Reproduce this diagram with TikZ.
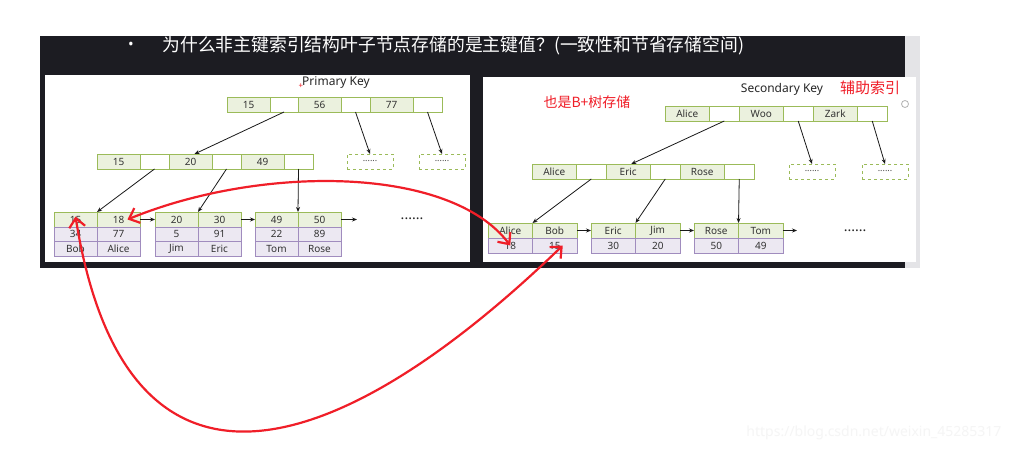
\documentclass[tikz,border=0pt]{standalone}
\usepackage{fontspec}
\setmainfont{Noto Sans}
\newfontfamily\cjk{Noto Sans CJK SC}
\usepackage{xcolor}
\usetikzlibrary{arrows.meta,positioning}
\definecolor{slidebg}{RGB}{28,28,34}
\definecolor{strip}{RGB}{228,228,231}
\definecolor{keyfill}{RGB}{235,241,222}
\definecolor{keyline}{RGB}{155,187,89}
\definecolor{valfill}{RGB}{236,232,242}
\definecolor{valline}{RGB}{160,140,190}
\definecolor{pen}{RGB}{240,30,40}

\begin{document}
\begin{tikzpicture}[x=1pt,y=-1pt,>={Stealth[length=5pt,width=4pt]},
  key/.style={draw=keyline,fill=keyfill,line width=1pt,minimum width=#1,minimum height=15pt,inner sep=0pt,outer sep=0pt,font=\fontsize{10}{10}\selectfont,text=black!80},
  ptr/.style={draw=keyline,fill=white,line width=1pt,minimum width=#1,minimum height=15pt,inner sep=0pt,outer sep=0pt},
  val/.style={draw=valline,fill=valfill,line width=1pt,minimum width=#1,minimum height=14.5pt,inner sep=0pt,outer sep=0pt,font=\fontsize{10}{10}\selectfont,text=black!80},
  more/.style={draw=keyline,dashed,line width=1pt,minimum width=46pt,minimum height=15pt,inner sep=0pt,outer sep=0pt,font=\fontsize{9}{9}\selectfont,text=black!70},
  link/.style={->,black!90,line width=0.8pt},
  redpen/.style={pen,line width=2.2pt,{Straight Barb[length=9pt,width=16pt]}-{Straight Barb[length=9pt,width=16pt]}}]
  \useasboundingbox (0,0) rectangle (1014,452);
  \fill[white] (0,0) rectangle (1014,452);
  % slide
  \fill[slidebg] (40,36) rectangle (905,268);
  \fill[strip] (905,36) rectangle (920,268);
  \fill[white] (45,75) rectangle (470,262);
  \fill[white] (483,77) rectangle (916,262);
  \node[text=white,font=\fontsize{15}{15}\selectfont] (dot) at (131,46) {•};
  \node[anchor=west,text=white,font=\cjk\fontsize{17.8}{18}\selectfont] (title) at (159,46) {为什么非主键索引结构叶子节点存储的是主键值？(一致性和节省存储空间)};

  % primary key tree
  \node[font=\fontsize{12}{12}\selectfont,text=black!85] (pk) at (336,83) {Primary Key};
  \node[text=pen,font=\fontsize{8}{8}\selectfont] (mark) at (301,86) {+};
  \node[key=43,anchor=north west] (pr1) at (227,97) {15};
  \node[ptr=28,right=0pt of pr1] (pr2) {};
  \node[key=43,right=0pt of pr2] (pr3) {56};
  \node[ptr=29,right=0pt of pr3] (pr4) {};
  \node[key=43,right=0pt of pr4] (pr5) {77};
  \node[ptr=29,right=0pt of pr5] (pr6) {};
  \node[key=43,anchor=north west] (pi1) at (97,154) {15};
  \node[ptr=29,right=0pt of pi1] (pi2) {};
  \node[key=43,right=0pt of pi2] (pi3) {20};
  \node[ptr=29,right=0pt of pi3] (pi4) {};
  \node[key=43,right=0pt of pi4] (pi5) {49};
  \node[ptr=29,right=0pt of pi5] (pi6) {};
  \node[more,anchor=north west] (pm1) at (347,154) {......};
  \node[more,anchor=north west] (pm2) at (419,154) {......};
  % primary key leaves
  \node[key=43,anchor=north west] (ll1a) at (54,212) {15};
  \node[key=43,right=0pt of ll1a] (ll1b) {18};
  \node[val=43,below=0pt of ll1a] (lv1a) {34};
  \node[val=43,below=0pt of ll1b] (lv1b) {77};
  \node[val=43,below=0pt of lv1a] (ln1a) {Bob};
  \node[val=43,below=0pt of lv1b] (ln1b) {Alice};
  \node[key=43,anchor=north west] (ll2a) at (155,212) {20};
  \node[key=43,right=0pt of ll2a] (ll2b) {30};
  \node[val=43,below=0pt of ll2a] (lv2a) {5};
  \node[val=43,below=0pt of ll2b] (lv2b) {91};
  \node[val=43,below=0pt of lv2a] (ln2a) {Jim};
  \node[val=43,below=0pt of lv2b] (ln2b) {Eric};
  \node[key=43,anchor=north west] (ll3a) at (255,212) {49};
  \node[key=43,right=0pt of ll3a] (ll3b) {50};
  \node[val=43,below=0pt of ll3a] (lv3a) {22};
  \node[val=43,below=0pt of ll3b] (lv3b) {89};
  \node[val=43,below=0pt of lv3a] (ln3a) {Tom};
  \node[val=43,below=0pt of lv3b] (ln3b) {Rose};
  \coordinate (lend) at (357,219.5);
  \node[font=\fontsize{14}{14}\selectfont\bfseries,text=black!85] (ldots) at (412,219) {......};
  \draw[link] (pr2.south) -- ([xshift=4pt]pi3.north);
  \draw[link] (pr4.south) -- (pm1.north);
  \draw[link] (pr6.south) -- (pm2.north);
  \draw[link] (pi2.south) -- (ll1b.north west);
  \draw[link] (pi4.south) -- (ll2b.north west);
  \draw[link] (pi6.south) -- (ll3b.north west);
  \draw[link] (ll1b.east) -- (ll2a.west);
  \draw[link] (ll2b.east) -- (ll3a.west);
  \draw[link] (ll3b.east) -- (lend);

  % secondary key tree
  \node[font=\fontsize{12}{12}\selectfont,text=black!85] (sk) at (782,89) {Secondary Key};
  \node[text=pen,font=\cjk\fontsize{15}{15}\selectfont] (aux) at (870,88) {辅助索引};
  \node[text=pen,font=\cjk\fontsize{14}{14}\selectfont] (also) at (587,102) {也是B+树存储};
  \node[circle,draw=gray!60,line width=0.8pt,minimum size=7pt,inner sep=0pt] (knob) at (905,104) {};
  \node[key=44.5,anchor=north west] (sr1) at (665,106) {Alice};
  \node[ptr=29.5,right=0pt of sr1] (sr2) {};
  \node[key=44.5,right=0pt of sr2] (sr3) {Woo};
  \node[ptr=29.5,right=0pt of sr3] (sr4) {};
  \node[key=44.5,right=0pt of sr4] (sr5) {Zark};
  \node[ptr=29.5,right=0pt of sr5] (sr6) {};
  \node[key=44.5,anchor=north west] (si1) at (532,164) {Alice};
  \node[ptr=29.5,right=0pt of si1] (si2) {};
  \node[key=44.5,right=0pt of si2] (si3) {Eric};
  \node[ptr=29.5,right=0pt of si3] (si4) {};
  \node[key=44.5,right=0pt of si4] (si5) {Rose};
  \node[ptr=29.5,right=0pt of si5] (si6) {};
  \node[more,anchor=north west] (sm1) at (789,164) {......};
  \node[more,anchor=north west] (sm2) at (862,164) {......};
  % secondary key leaves
  \node[key=44.5,anchor=north west] (rl1a) at (488,223) {Alice};
  \node[key=44.5,right=0pt of rl1a] (rl1b) {Bob};
  \node[val=44.5,minimum height=15pt,below=0pt of rl1a] (rv1a) {18};
  \node[val=44.5,minimum height=15pt,below=0pt of rl1b] (rv1b) {15};
  \node[key=44.5,anchor=north west] (rl2a) at (591,223) {Eric};
  \node[key=44.5,right=0pt of rl2a] (rl2b) {Jim};
  \node[val=44.5,minimum height=15pt,below=0pt of rl2a] (rv2a) {30};
  \node[val=44.5,minimum height=15pt,below=0pt of rl2b] (rv2b) {20};
  \node[key=44.5,anchor=north west] (rl3a) at (694,223) {Rose};
  \node[key=44.5,right=0pt of rl3a] (rl3b) {Tom};
  \node[val=44.5,minimum height=15pt,below=0pt of rl3a] (rv3a) {50};
  \node[val=44.5,minimum height=15pt,below=0pt of rl3b] (rv3b) {49};
  \coordinate (rend) at (797,230.5);
  \node[font=\fontsize{14}{14}\selectfont\bfseries,text=black!85] (rdots) at (855,231) {......};
  \draw[link] (sr2.south) -- ([xshift=3pt]si3.north);
  \draw[link] (sr4.south) -- (sm1.north);
  \draw[link] (sr6.south) -- (sm2.north);
  \draw[link] (si2.south) -- (rl1b.north west);
  \draw[link] (si4.south) -- (rl2b.north west);
  \draw[link] (si6.south) -- (rl3b.north west);
  \draw[link] (rl1b.east) -- (rl2a.west);
  \draw[link] (rl2b.east) -- (rl3a.west);
  \draw[link] (rl3b.east) -- (rend);

  % red pen marks
  \draw[redpen] ([xshift=9pt]ll1b.center) .. controls (260,165) and (450,165) .. (rv1a.center);
  \draw[redpen] ([yshift=3pt]ll1a.center) .. controls (125,525) and (330,470) .. ([xshift=8pt]rv1b.center);

  \node[anchor=east,text=gray!8,font=\fontsize{14}{14}\selectfont] (wm) at (1005,433) {https://blog.csdn.net/weixin\_45285317};
\end{tikzpicture}
\end{document}
